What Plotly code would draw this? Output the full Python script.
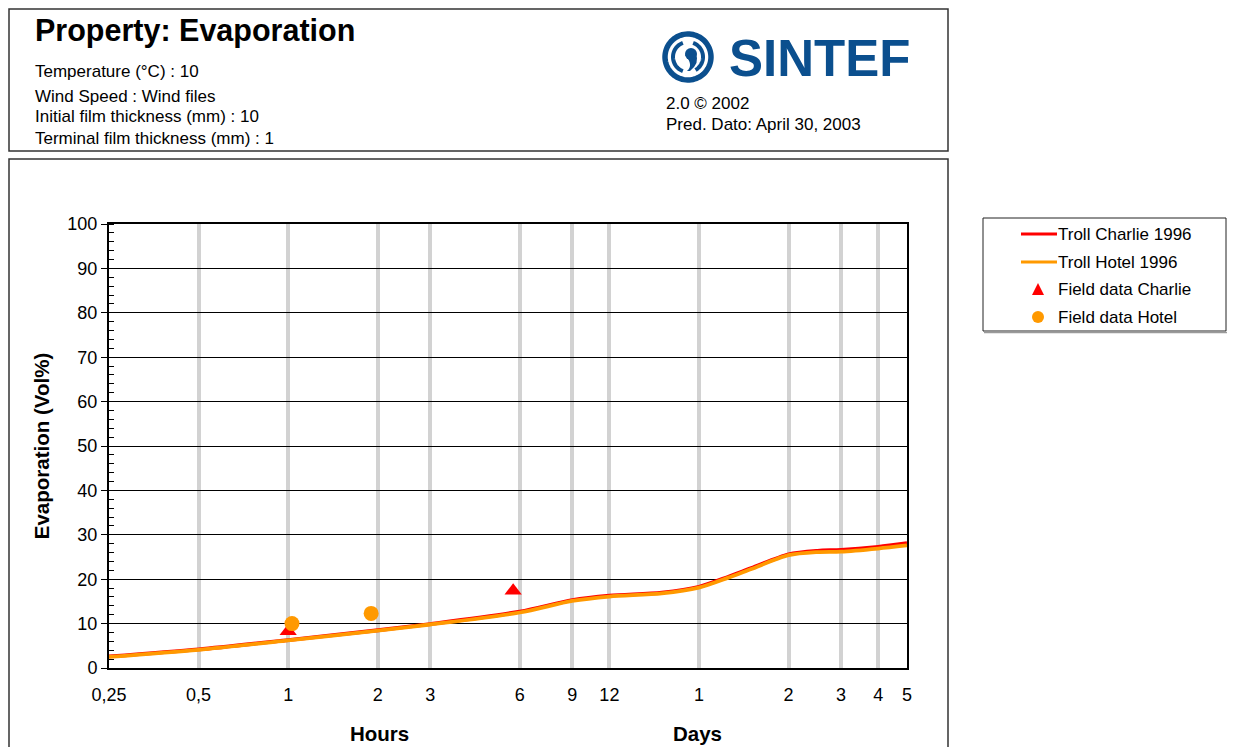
import numpy as np
import plotly.graph_objects as go

# model curves (time in hours, evaporated volume %)
hours = [0.25, 0.5, 1, 2, 3, 6, 9, 12, 18, 24, 30, 36, 48, 60, 72, 96, 120]
charlie_evap = [2.6, 4.2, 6.3, 8.5, 9.9, 12.7, 15.3, 16.3, 17.0, 18.3, 20.5, 22.5, 25.6, 26.4, 26.6, 27.3, 28.1]
hotel_evap = [2.5, 4.1, 6.2, 8.4, 9.8, 12.5, 15.1, 16.1, 16.8, 18.1, 20.3, 22.3, 25.4, 26.1, 26.2, 26.9, 27.6]

# field observations
field_charlie_h = [1.0, 5.7]
field_charlie_v = [8.3, 17.4]
field_hotel_h = [1.03, 1.9]
field_hotel_v = [10.0, 12.3]

tick_hours = [0.25, 0.5, 1, 2, 3, 6, 9, 12, 24, 48, 72, 96, 120]
tick_labels = ["0,25", "0,5", "1", "2", "3", "6", "9", "12", "1", "2", "3", "4", "5"]

RED = "#FF0000"
ORANGE = "#FF9900"
BLUE = "#0B4F8E"
FONT = "Liberation Sans, Arial, sans-serif"

# page body has an 8px margin, so the figure starts at (8, 8)
OFF = 8
W, H = 1235 - OFF, 747 - OFF
PL, PR, PT, PB = 109, 907, 224, 668   # plot area in screen pixels


def px(x):
    return (x - PL) / (PR - PL)


def py(y):
    return (PB - y) / (PB - PT)


def note(text, x, y, size, anchor="left", color="black"):
    return dict(text=text, x=px(x), y=py(y), xref="paper", yref="paper", showarrow=False,
                xanchor=anchor, yanchor="middle", font=dict(size=size, color=color))


fig = go.Figure()

fig.add_trace(go.Scatter(x=hours, y=charlie_evap, mode="lines", name="Troll Charlie 1996",
                         line=dict(color=RED, width=3.8, shape="spline", smoothing=0.8)))
fig.add_trace(go.Scatter(x=hours, y=hotel_evap, mode="lines", name="Troll Hotel 1996",
                         line=dict(color=ORANGE, width=3.8, shape="spline", smoothing=0.8)))
fig.add_trace(go.Scatter(x=field_charlie_h, y=field_charlie_v, mode="markers", name="Field data Charlie",
                         marker=dict(symbol="triangle-up", size=15, color=RED)))
fig.add_trace(go.Scatter(x=field_hotel_h, y=field_hotel_v, mode="markers", name="Field data Hotel",
                         marker=dict(symbol="circle", size=15, color=ORANGE)))

shapes = []
annotations = []

# frames around the header and the chart
shapes.append(dict(type="rect", xref="paper", yref="paper", x0=px(9), x1=px(948), y0=py(151), y1=py(9),
                   line=dict(color="#333333", width=1.5)))
shapes.append(dict(type="rect", xref="paper", yref="paper", x0=px(9), x1=px(948), y0=py(770), y1=py(159),
                   line=dict(color="#333333", width=1.5)))

# header text
annotations.append(note("<b>Property: Evaporation</b>", 33, 30, 30.5))
info = [("Temperature (°C) : 10", 71), ("Wind Speed : Wind files", 96),
        ("Initial film thickness (mm) : 10", 116), ("Terminal film thickness (mm) : 1", 138)]
for txt, yy in info:
    annotations.append(note(txt, 33, yy, 17))
annotations.append(note("2.0 © 2002", 664, 103, 17))
annotations.append(note("Pred. Dato: April 30, 2003", 664, 124, 17))

# SINTEF logo
annotations.append(note("<b>SINTEF</b>", 727, 58, 51, color=BLUE))
cx, cy = 688, 57


def ring_path(r, a0, a1, n=40):
    t = np.radians(np.linspace(a0, a1, n))
    pts = ["%s%.5f,%.5f" % ("M" if i == 0 else "L", px(cx + r * np.cos(a)), py(cy - r * np.sin(a)))
           for i, a in enumerate(t)]
    return " ".join(pts)


shapes.append(dict(type="path", xref="paper", yref="paper", path=ring_path(23, 0, 360, 80),
                   line=dict(color=BLUE, width=5.5)))
shapes.append(dict(type="path", xref="paper", yref="paper", path=ring_path(15, 110, 250),
                   line=dict(color=BLUE, width=4)))
shapes.append(dict(type="path", xref="paper", yref="paper", path=ring_path(15, -60, 70),
                   line=dict(color=BLUE, width=4)))
shapes.append(dict(type="circle", xref="paper", yref="paper", x0=px(685), x1=px(697), y0=py(60), y1=py(48),
                   fillcolor=BLUE, line=dict(width=0)))
comma = "M%.5f,%.5f Q%.5f,%.5f %.5f,%.5f L%.5f,%.5f Q%.5f,%.5f %.5f,%.5f Z" % (
    px(685), py(55), px(694), py(65), px(687), py(71), px(690), py(71), px(700), py(63), px(696), py(54))
shapes.append(dict(type="path", xref="paper", yref="paper", path=comma, fillcolor=BLUE, line=dict(width=0)))

# legend drawn by hand
shapes.append(dict(type="rect", xref="paper", yref="paper", x0=px(983), x1=px(1226), y0=py(331), y1=py(218),
                   line=dict(color="#222222", width=1)))
shapes.append(dict(type="line", xref="paper", yref="paper", x0=px(984), x1=px(1227), y0=py(332.5), y1=py(332.5),
                   line=dict(color="#9a9a9a", width=1.5)))
leg = [("Troll Charlie 1996", 234), ("Troll Hotel 1996", 262), ("Field data Charlie", 289), ("Field data Hotel", 317)]
for txt, yy in leg:
    annotations.append(note(txt, 1056, yy, 17))
shapes.append(dict(type="line", xref="paper", yref="paper", x0=px(1021), x1=px(1057), y0=py(234), y1=py(234),
                   line=dict(color=RED, width=3)))
shapes.append(dict(type="line", xref="paper", yref="paper", x0=px(1021), x1=px(1057), y0=py(262), y1=py(262),
                   line=dict(color=ORANGE, width=3)))
shapes.append(dict(type="path", xref="paper", yref="paper",
                   path="M%.5f,%.5f L%.5f,%.5f L%.5f,%.5f Z" % (px(1032), py(295), px(1044), py(295), px(1038), py(283)),
                   fillcolor=RED, line=dict(width=0)))
shapes.append(dict(type="circle", xref="paper", yref="paper", x0=px(1032), x1=px(1044), y0=py(323), y1=py(311),
                   fillcolor=ORANGE, line=dict(width=0)))

# second tier of x labels
annotations.append(note("<b>Hours</b>", 379, 733, 20.5, anchor="center"))
annotations.append(note("<b>Days</b>", 697, 733, 20.5, anchor="center"))

fig.update_layout(
    width=W, height=H, autosize=False,
    margin=dict(l=PL - OFF, r=W - (PR - OFF), t=PT - OFF, b=H - (PB - OFF), pad=0),
    paper_bgcolor="white", plot_bgcolor="white",
    font=dict(family=FONT, size=18, color="black"),
    showlegend=False,
    shapes=shapes,
    annotations=annotations,
)

fig.update_xaxes(
    type="log", range=[np.log10(0.25), np.log10(120)],
    tickvals=tick_hours, ticktext=tick_labels,
    ticks="", ticklabelstandoff=9,
    showgrid=True, gridcolor="#d2d2d2", gridwidth=3.5,
    showline=True, linecolor="black", linewidth=2, mirror=True,
    zeroline=False, tickfont=dict(size=18),
)
fig.update_yaxes(
    range=[0, 100], dtick=10,
    ticks="outside", ticklen=6, tickwidth=1, tickcolor="black",
    minor=dict(dtick=2, ticks="inside", ticklen=5, tickcolor="black", showgrid=False),
    showgrid=True, gridcolor="black", gridwidth=1,
    showline=True, linecolor="black", linewidth=2, mirror=True,
    zeroline=False, tickfont=dict(size=18),
    title=dict(text="<b>Evaporation (Vol%)</b>", font=dict(size=20.5), standoff=12),
)

fig.write_html("out.html")
